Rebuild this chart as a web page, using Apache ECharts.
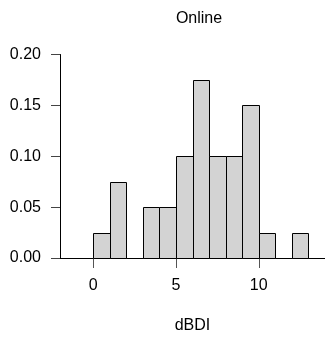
<!DOCTYPE html>
<html>
<head>
<meta charset="utf-8">
<script src="https://cdn.jsdelivr.net/npm/echarts@6/dist/echarts.min.js"></script>
<style>
html,body{margin:0;padding:0;background:#fff;}
#chart{width:325px;height:339px;}
</style>
</head>
<body>
<div id="chart"></div>
<script>
// Histogram bins (dBDI) and densities
var binStart = [0, 1, 2, 3, 4, 5, 6, 7, 8, 9, 10, 11, 12];
var binEnd   = [1, 2, 3, 4, 5, 6, 7, 8, 9, 10, 11, 12, 13];
var density  = [0.025, 0.075, 0, 0.05, 0.05, 0.1, 0.175, 0.1, 0.1, 0.15, 0.025, 0, 0.025];
var xTicks = [0, 5, 10];
var titleText = 'Online';
var xName = 'dBDI';

var FONT = "'Liberation Sans', Arial, Helvetica, sans-serif";
var data = binStart.map(function (s, i) { return [s, binEnd[i], density[i]]; });

var chart = echarts.init(document.getElementById('chart'), null, {renderer: 'canvas'});
chart.setOption({
  animation: false,
  backgroundColor: '#ffffff',
  title: {
    text: titleText,
    left: 194,
    top: 6,
    textAlign: 'center',
    textStyle: {fontFamily: FONT, fontSize: 16, fontWeight: 'normal', color: '#000'}
  },
  grid: {left: 60, top: 54.5, width: 268, bottom: 75, containLabel: false},
  xAxis: {
    type: 'value',
    min: -2,
    max: 14,
    name: xName,
    nameLocation: 'middle',
    nameGap: 60,
    nameTextStyle: {fontFamily: FONT, fontSize: 16, color: '#000'},
    axisLine: {show: true, onZero: false, lineStyle: {color: '#000', width: 1}},
    axisTick: {show: true, length: 10, inside: false, customValues: xTicks, lineStyle: {color: '#555', width: 1}},
    axisLabel: {show: true, customValues: xTicks, margin: 20, fontFamily: FONT, fontSize: 16, color: '#000'},
    splitLine: {show: false}
  },
  yAxis: {
    type: 'value',
    min: 0,
    max: 0.2,
    interval: 0.05,
    axisLine: {show: true, onZero: false, lineStyle: {color: '#000', width: 1}},
    axisTick: {show: true, length: 9, inside: false, lineStyle: {color: '#444', width: 1}},
    axisLabel: {
      show: true, margin: 19, fontFamily: FONT, fontSize: 16, color: '#000',
      formatter: function (v) { return Number(v).toFixed(2); }
    },
    splitLine: {show: false}
  },
  series: [{
    type: 'custom',
    data: data,
    renderItem: function (params, api) {
      var h = api.value(2);
      if (!(h > 0)) return null;
      var p0 = api.coord([api.value(0), 0]);
      var p1 = api.coord([api.value(1), h]);
      return {
        type: 'rect',
        shape: {
          x: Math.round(p0[0]) + 0.5,
          y: Math.round(p1[1]) + 0.5,
          width: Math.round(p1[0]) - Math.round(p0[0]),
          height: Math.round(p0[1]) - Math.round(p1[1])
        },
        style: {fill: '#d3d3d3', stroke: '#000', lineWidth: 1}
      };
    },
    encode: {x: [0, 1], y: 2}
  }]
});
</script>
</body>
</html>
